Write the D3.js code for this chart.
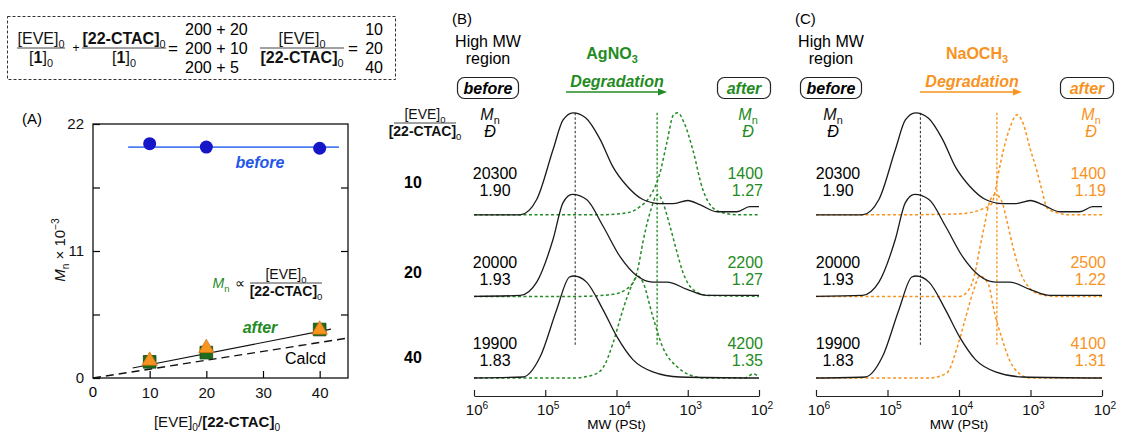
<!DOCTYPE html>
<html>
<head>
<meta charset="utf-8">
<script src="https://cdn.jsdelivr.net/npm/d3@7"></script>
<style>
  body { margin: 0; background: #fff; }
  svg { display: block; }
</style>
</head>
<body>
<script>
'use strict';

// ---- data (A) ----
var ratios = [10, 20, 40];
var mnBefore = [20.3, 20.0, 19.9];
var mnAfterAg = [1.4, 2.2, 4.2];
var mnAfterNa = [1.4, 2.5, 4.1];
var beforeLine = [[6.2, 20.0], [43.4, 20.0]];
var fitLine = [[7, 0.87], [42, 4.23]];
var calcdLine = [[0, 0], [45, 3.46]];
var xTicksA = [0, 10, 20, 30, 40];
var yTicksA = [0, 5.5, 11, 16.5, 22];
var yLabelsA = [0, 11, 22];

// ---- data (B, C) ----
var mnBeforeTxt = ['20300', '20000', '19900'];
var dBeforeTxt = ['1.90', '1.93', '1.83'];
var mnAgTxt = ['1400', '2200', '4200'];
var dAgTxt = ['1.27', '1.27', '1.35'];
var mnNaTxt = ['1400', '2500', '4100'];
var dNaTxt = ['1.19', '1.22', '1.31'];
var mwTicks = [6, 5, 4, 3, 2];

// SEC traces: [log10 MW, normalized intensity]
var secBefore10 = [[6.0, 0], [5.35, 0], [5.12, 0.15], [4.89, 0.64], [4.75, 0.93], [4.61, 1.0], [4.43, 0.95],
  [4.23, 0.74], [4.05, 0.47], [3.85, 0.28], [3.63, 0.15], [3.39, 0.11], [3.21, 0.11], [3.0, 0.14],
  [2.83, 0.1], [2.59, 0.03], [2.31, 0.03], [2.13, 0.08], [2.0, 0.08]];
var secBefore20 = [[6.0, 0], [5.35, 0.01], [5.12, 0.14], [4.89, 0.56], [4.75, 0.92], [4.62, 1.0], [4.42, 0.95],
  [4.19, 0.69], [3.95, 0.39], [3.71, 0.2], [3.49, 0.14], [3.29, 0.14], [3.01, 0.07], [2.73, 0.01], [2.0, 0.01]];
var secBefore40 = [[6.0, 0], [5.31, 0.01], [5.07, 0.21], [4.84, 0.67], [4.66, 0.99], [4.6, 1.0], [4.42, 0.94],
  [4.19, 0.67], [3.99, 0.4], [3.77, 0.18], [3.49, 0.06], [3.11, 0.01], [2.0, 0]];

var secAg10 = [[6.0, 0], [4.23, 0], [3.85, 0.02], [3.67, 0.08], [3.53, 0.18], [3.39, 0.41], [3.29, 0.72],
  [3.2, 0.98], [3.14, 1.0], [3.05, 0.9], [2.93, 0.64], [2.79, 0.25], [2.65, 0.07], [2.51, 0.02], [2.31, 0], [2.0, 0]];
var secAg20 = [[6.0, 0], [4.51, 0], [4.05, 0.02], [3.81, 0.1], [3.7, 0.27], [3.63, 0.53], [3.53, 0.82],
  [3.42, 1.0], [3.35, 0.92], [3.25, 0.69], [3.15, 0.43], [3.07, 0.24], [2.93, 0.07], [2.73, 0.01], [2.0, 0]];
var secAg40 = [[6.0, 0], [4.61, 0], [4.33, 0.03], [4.19, 0.1], [4.05, 0.34], [3.91, 0.67], [3.77, 0.93],
  [3.7, 1.0], [3.63, 0.94], [3.49, 0.6], [3.35, 0.3], [3.15, 0.11], [2.97, 0.03], [2.76, 0], [2.2, 0],
  [2.08, 0.04], [2.0, 0.01]];

var secNa10 = [[6.0, 0], [4.83, 0], [3.99, 0.01], [3.66, 0.06], [3.54, 0.11], [3.5, 0.21], [3.45, 0.4],
  [3.38, 0.63], [3.29, 0.85], [3.19, 0.98], [3.1, 0.89], [3.01, 0.66], [2.91, 0.43], [2.84, 0.24],
  [2.77, 0.07], [2.63, 0.02], [2.45, 0], [2.0, 0]];
var secNa20 = [[6.0, 0], [3.99, 0], [3.85, 0.08], [3.78, 0.22], [3.71, 0.47], [3.64, 0.71], [3.57, 0.93],
  [3.49, 1.0], [3.4, 0.93], [3.33, 0.74], [3.24, 0.47], [3.15, 0.25], [3.01, 0.08], [2.87, 0.02], [2.66, 0], [2.0, 0]];
var secNa40 = [[6.0, 0], [4.41, 0], [4.17, 0.05], [4.03, 0.29], [3.92, 0.56], [3.8, 0.85], [3.71, 1.0],
  [3.59, 0.92], [3.5, 0.63], [3.4, 0.39], [3.29, 0.17], [3.15, 0.04], [3.01, 0], [2.0, 0]];

var rowOffsets = [1.6, 0.8, 0];

var FONT = "'Liberation Sans', Arial, Helvetica, sans-serif";
var GREEN = '#238b23';
var ORANGE = '#f7931e';
var BLUE = '#2457e8';

var svg = d3.select('body').append('svg')
  .attr('width', 1126)
  .attr('height', 433)
  .style('font-family', FONT);

// text with sub/superscripts; parts are strings or {t, sub, sup, b, i}
function rich(sel, x, y, parts, o) {
  o = o || {};
  var size = o.size || 16;
  var t = sel.append('text')
    .attr('x', x)
    .attr('y', y)
    .attr('text-anchor', o.anchor || 'middle')
    .attr('font-size', size)
    .attr('fill', o.color || '#111');
  if (o.bold) t.attr('font-weight', 'bold');
  if (o.italic) t.attr('font-style', 'italic');
  var shift = 0;
  parts.forEach(function(p) {
    if (typeof p === 'string') p = { t: p };
    var target = p.sub ? size * 0.25 : p.sup ? -size * 0.42 : 0;
    var ts = t.append('tspan').text(p.t).attr('dy', target - shift);
    shift = target;
    if (p.sub || p.sup) ts.attr('font-size', size * 0.68);
    if (p.b) ts.attr('font-weight', 'bold');
    if (p.i) ts.attr('font-style', 'italic');
  });
  return t;
}

var EVE = ['[EVE]', { t: '0', sub: true }];
var CTAC = [{ t: '[22-CTAC]', b: true }, { t: '0', sub: true }];
var ONE = ['[', { t: '1', b: true }, ']', { t: '0', sub: true }];
var MN = [{ t: 'M', i: true }, { t: 'n', sub: true }];

function frac(sel, cx, yBar, num, den, size, color, halfW) {
  rich(sel, cx, yBar - 4, num, { size: size, color: color });
  sel.append('line')
    .attr('x1', cx - halfW).attr('x2', cx + halfW)
    .attr('y1', yBar).attr('y2', yBar)
    .attr('stroke', '#444').attr('stroke-width', 1);
  rich(sel, cx, yBar + size * 0.93, den, { size: size, color: color });
}

// ---------- equation box ----------
var eq = svg.append('g');
eq.append('rect')
  .attr('x', 7.5).attr('y', 16.5).attr('width', 388).attr('height', 63)
  .attr('fill', 'none').attr('stroke', '#333').attr('stroke-dasharray', '3,2');
frac(eq, 41, 48, EVE, ONE, 16, '#111', 24);
eq.append('text').attr('x', 76).attr('y', 52).attr('text-anchor', 'middle')
  .attr('font-size', 12).text('+');
frac(eq, 124, 48, CTAC, ONE, 16, '#111', 42);
eq.append('text').attr('x', 173).attr('y', 54).attr('text-anchor', 'middle')
  .attr('font-size', 17).text('=');
['200 + 20', '200 + 10', '200 + 5'].forEach(function(s, i) {
  eq.append('text').attr('x', 185).attr('y', 34.5 + i * 19)
    .attr('font-size', 16).text(s);
});
frac(eq, 302, 48, EVE, CTAC, 16, '#111', 42);
eq.append('text').attr('x', 353).attr('y', 54).attr('text-anchor', 'middle')
  .attr('font-size', 17).text('=');
ratios.forEach(function(r, i) {
  eq.append('text').attr('x', 383).attr('y', 34.5 + i * 19)
    .attr('text-anchor', 'end').attr('font-size', 16).text(r);
});

// ---------- panel A ----------
var A = { l: 93, r: 348, t: 124, b: 378 };
var xA = d3.scaleLinear().domain([0, 45]).range([A.l, A.r]);
var yA = d3.scaleLinear().domain([0, 22]).range([A.b, A.t]);
var gA = svg.append('g');

gA.append('text').attr('x', 22).attr('y', 124).attr('font-size', 15).text('(A)');

gA.append('g').attr('transform', 'translate(0,' + A.b + ')')
  .call(d3.axisBottom(xA).tickValues(xTicksA.slice(1)).tickSizeInner(-7).tickSizeOuter(0)
    .tickPadding(9).tickFormat(d3.format('d')));
gA.append('g').attr('transform', 'translate(' + A.l + ',0)')
  .call(d3.axisLeft(yA).tickValues(yTicksA).tickSizeInner(-7).tickSizeOuter(0).tickPadding(9)
    .tickFormat(function(d) { return yLabelsA.indexOf(d) >= 0 ? d : ''; }));
gA.append('g').attr('transform', 'translate(' + A.r + ',0)')
  .call(d3.axisRight(yA).tickValues(yTicksA.slice(1, 4)).tickSizeInner(-7).tickSizeOuter(0)
    .tickFormat(''));
gA.selectAll('.tick text').attr('font-size', 15).attr('font-family', FONT).attr('fill', '#111');
gA.selectAll('.tick line').attr('stroke-width', 1.2);
gA.selectAll('.domain').remove();
// "0" under the origin
gA.append('text').attr('x', xA(0)).attr('y', 397).attr('text-anchor', 'middle')
  .attr('font-size', 15).text('0');

gA.append('rect')
  .attr('x', A.l).attr('y', A.t).attr('width', A.r - A.l).attr('height', A.b - A.t)
  .attr('fill', 'none').attr('stroke', '#111').attr('stroke-width', 1.3);

rich(gA, 217, 427, EVE.concat(['/']).concat(CTAC), { size: 15 });
rich(svg.append('g').attr('transform', 'translate(65,250) rotate(-90)'), 0, 0,
  [{ t: 'M', i: true }, { t: 'n', sub: true }, ' \u00d7 10', { t: '\u22123', sup: true }], { size: 15 });

var lineA = d3.line().x(function(d) { return xA(d[0]); }).y(function(d) { return yA(d[1]); });
gA.append('path').datum(beforeLine).attr('d', lineA)
  .attr('stroke', '#4d7cf2').attr('stroke-width', 1.6).attr('fill', 'none');
gA.append('path').datum(calcdLine).attr('d', lineA)
  .attr('stroke', '#111').attr('stroke-width', 1.4).attr('stroke-dasharray', '8,5').attr('fill', 'none');
gA.append('path').datum(fitLine).attr('d', lineA)
  .attr('stroke', '#111').attr('stroke-width', 1.1).attr('fill', 'none');

gA.selectAll('circle.bef').data(ratios).enter().append('circle')
  .attr('cx', function(d) { return xA(d); })
  .attr('cy', function(d, i) { return yA(mnBefore[i]); })
  .attr('r', 6.5).attr('fill', '#1616c9');
gA.selectAll('path.ag').data(ratios).enter().append('path')
  .attr('d', d3.symbol().type(d3.symbolSquare).size(160))
  .attr('transform', function(d, i) { return 'translate(' + xA(d) + ',' + yA(mnAfterAg[i]) + ')'; })
  .attr('fill', '#1f6b1f').attr('stroke', '#0f4a0f').attr('stroke-width', 0.8);
gA.selectAll('path.na').data(ratios).enter().append('path')
  .attr('d', d3.symbol().type(d3.symbolTriangle).size(105))
  .attr('transform', function(d, i) { return 'translate(' + xA(d) + ',' + (yA(mnAfterNa[i]) - 1) + ')'; })
  .attr('fill', ORANGE).attr('stroke', '#c86a0a').attr('stroke-width', 0.6);

gA.append('text').attr('x', 260).attr('y', 168).attr('text-anchor', 'middle')
  .attr('font-size', 16).attr('font-weight', 'bold').attr('font-style', 'italic')
  .attr('fill', BLUE).text('before');
gA.append('text').attr('x', 260).attr('y', 333).attr('text-anchor', 'middle')
  .attr('font-size', 16).attr('font-weight', 'bold').attr('font-style', 'italic')
  .attr('fill', GREEN).text('after');
gA.append('text').attr('x', 285).attr('y', 364).attr('font-size', 16).text('Calcd');
rich(gA, 221, 288, MN, { size: 14, color: GREEN });
gA.append('text').attr('x', 240).attr('y', 288).attr('text-anchor', 'middle')
  .attr('font-size', 14).text('\u221d');
frac(gA, 286, 283, EVE, CTAC, 14, '#111', 36);

// ---------- SEC panels ----------
var ySec = d3.scaleLinear().domain([0, 2.6]).range([378, 112.8]);

function secPanel(opt) {
  var g = svg.append('g');
  var x = d3.scaleLinear().domain([6, 2]).range(opt.range);
  var dx = opt.dx;
  var line = d3.line()
    .x(function(d) { return x(d[0]); })
    .y(function(d) { return ySec(d[1]); })
    .curve(d3.curveMonotoneX);

  // vertical guide lines
  g.append('line')
    .attr('x1', x(opt.vBefore)).attr('x2', x(opt.vBefore))
    .attr('y1', ySec(2.6)).attr('y2', ySec(0.32))
    .attr('stroke', '#222').attr('stroke-width', 1).attr('stroke-dasharray', '2.5,2');
  g.append('line')
    .attr('x1', x(opt.vAfter)).attr('x2', x(opt.vAfter))
    .attr('y1', ySec(2.6)).attr('y2', ySec(0.32))
    .attr('stroke', opt.color).attr('stroke-width', 1.3).attr('stroke-dasharray', '2.5,2');

  opt.after.forEach(function(c, i) {
    g.append('path')
      .datum(c.map(function(d) { return [d[0], d[1] + rowOffsets[i]]; }))
      .attr('d', line).attr('fill', 'none')
      .attr('stroke', opt.color).attr('stroke-width', 1.5).attr('stroke-dasharray', '3,2.5');
  });
  opt.before.forEach(function(c, i) {
    g.append('path')
      .datum(c.map(function(d) { return [d[0], d[1] + rowOffsets[i]]; }))
      .attr('d', line).attr('fill', 'none')
      .attr('stroke', '#1a1a1a').attr('stroke-width', 1.3);
  });

  // MW axis
  var ax = g.append('g').attr('transform', 'translate(0,396)')
    .call(d3.axisBottom(x).tickValues(mwTicks).tickSizeInner(-6).tickSizeOuter(0).tickFormat(''));
  ax.selectAll('line, path').attr('stroke', '#222').attr('stroke-width', 1.2);
  mwTicks.forEach(function(t) {
    rich(g, x(t) + 3, 415, ['10', { t: String(t), sup: true }], { size: 15 });
  });
  g.append('text').attr('x', x(4)).attr('y', 429).attr('text-anchor', 'middle')
    .attr('font-size', 13.5).text('MW (PSt)');

  // headings
  g.append('text').attr('x', 452 + dx).attr('y', 24).attr('font-size', 15).text(opt.tag);
  g.append('text').attr('x', 488 + dx).attr('y', 47).attr('text-anchor', 'middle')
    .attr('font-size', 16).text('High MW');
  g.append('text').attr('x', 488 + dx).attr('y', 64).attr('text-anchor', 'middle')
    .attr('font-size', 16).text('region');

  g.append('rect').attr('x', 457.5 + dx).attr('y', 77.5).attr('width', 61).attr('height', 21)
    .attr('rx', 7).attr('fill', 'none').attr('stroke', '#222').attr('stroke-width', 1.2);
  g.append('text').attr('x', 488 + dx).attr('y', 94).attr('text-anchor', 'middle')
    .attr('font-size', 16).attr('font-weight', 'bold').attr('font-style', 'italic').text('before');
  g.append('rect').attr('x', 717.5 + dx).attr('y', 77.5).attr('width', 53).attr('height', 21)
    .attr('rx', 7).attr('fill', 'none').attr('stroke', '#222').attr('stroke-width', 1.2);
  g.append('text').attr('x', 744 + dx).attr('y', 94).attr('text-anchor', 'middle')
    .attr('font-size', 16).attr('font-weight', 'bold').attr('font-style', 'italic')
    .attr('fill', opt.color).text('after');

  rich(g, opt.reagentX, 58.5, opt.reagent, { size: 16, bold: true, color: opt.color });
  g.append('text').attr('x', opt.degX).attr('y', 87).attr('text-anchor', 'middle')
    .attr('font-size', 16).attr('font-weight', 'bold').attr('font-style', 'italic')
    .attr('fill', opt.color).text('Degradation');
  g.append('line').attr('x1', opt.arrow[0]).attr('x2', opt.arrow[1] - 6)
    .attr('y1', 92).attr('y2', 92).attr('stroke', opt.color).attr('stroke-width', 1.5);
  g.append('path')
    .attr('d', 'M' + opt.arrow[1] + ',92 l-9,-3.5 l0,7 z')
    .attr('fill', opt.color);

  rich(g, 490 + dx, 120, MN, { size: 16 });
  g.append('text').attr('x', 490 + dx).attr('y', 137).attr('text-anchor', 'middle')
    .attr('font-size', 16).attr('font-style', 'italic').text('\u0110');
  rich(g, 748 + dx, 120, MN, { size: 16, color: opt.color });
  g.append('text').attr('x', 748 + dx).attr('y', 137).attr('text-anchor', 'middle')
    .attr('font-size', 16).attr('font-style', 'italic').attr('fill', opt.color).text('\u0110');

  var rowY = [178.5, 267.5, 348.5];
  rowY.forEach(function(y, i) {
    g.append('text').attr('x', 495 + dx).attr('y', y).attr('text-anchor', 'middle')
      .attr('font-size', 16).text(mnBeforeTxt[i]);
    g.append('text').attr('x', 495 + dx).attr('y', y + 17).attr('text-anchor', 'middle')
      .attr('font-size', 16).text(dBeforeTxt[i]);
    g.append('text').attr('x', 763 + dx).attr('y', y).attr('text-anchor', 'end')
      .attr('font-size', 16).attr('fill', opt.color).text(opt.mnTxt[i]);
    g.append('text').attr('x', 763 + dx).attr('y', y + 17).attr('text-anchor', 'end')
      .attr('font-size', 16).attr('fill', opt.color).text(opt.dTxt[i]);
  });
  return g;
}

secPanel({
  tag: '(B)', dx: 0, range: [474, 759], color: GREEN,
  before: [secBefore10, secBefore20, secBefore40],
  after: [secAg10, secAg20, secAg40],
  vBefore: 4.58, vAfter: 3.43,
  reagent: ['AgNO', { t: '3', sub: true }], reagentX: 612, degX: 617, arrow: [566, 667],
  mnTxt: mnAgTxt, dTxt: dAgTxt
});
secPanel({
  tag: '(C)', dx: 343, range: [816, 1102], color: ORANGE,
  before: [secBefore10, secBefore20, secBefore40],
  after: [secNa10, secNa20, secNa40],
  vBefore: 4.54, vAfter: 3.47,
  reagent: ['NaOCH', { t: '3', sub: true }], reagentX: 977, degX: 972, arrow: [920, 1022],
  mnTxt: mnNaTxt, dTxt: dNaTxt
});

// row labels (left of panel B)
var gR = svg.append('g');
frac(gR, 425, 123, EVE, CTAC, 14, '#111', 31);
[188, 278, 363].forEach(function(y, i) {
  gR.append('text').attr('x', 413).attr('y', y).attr('text-anchor', 'middle')
    .attr('font-size', 16).attr('font-weight', 'bold').text(ratios[i]);
});
</script>
</body>
</html>
